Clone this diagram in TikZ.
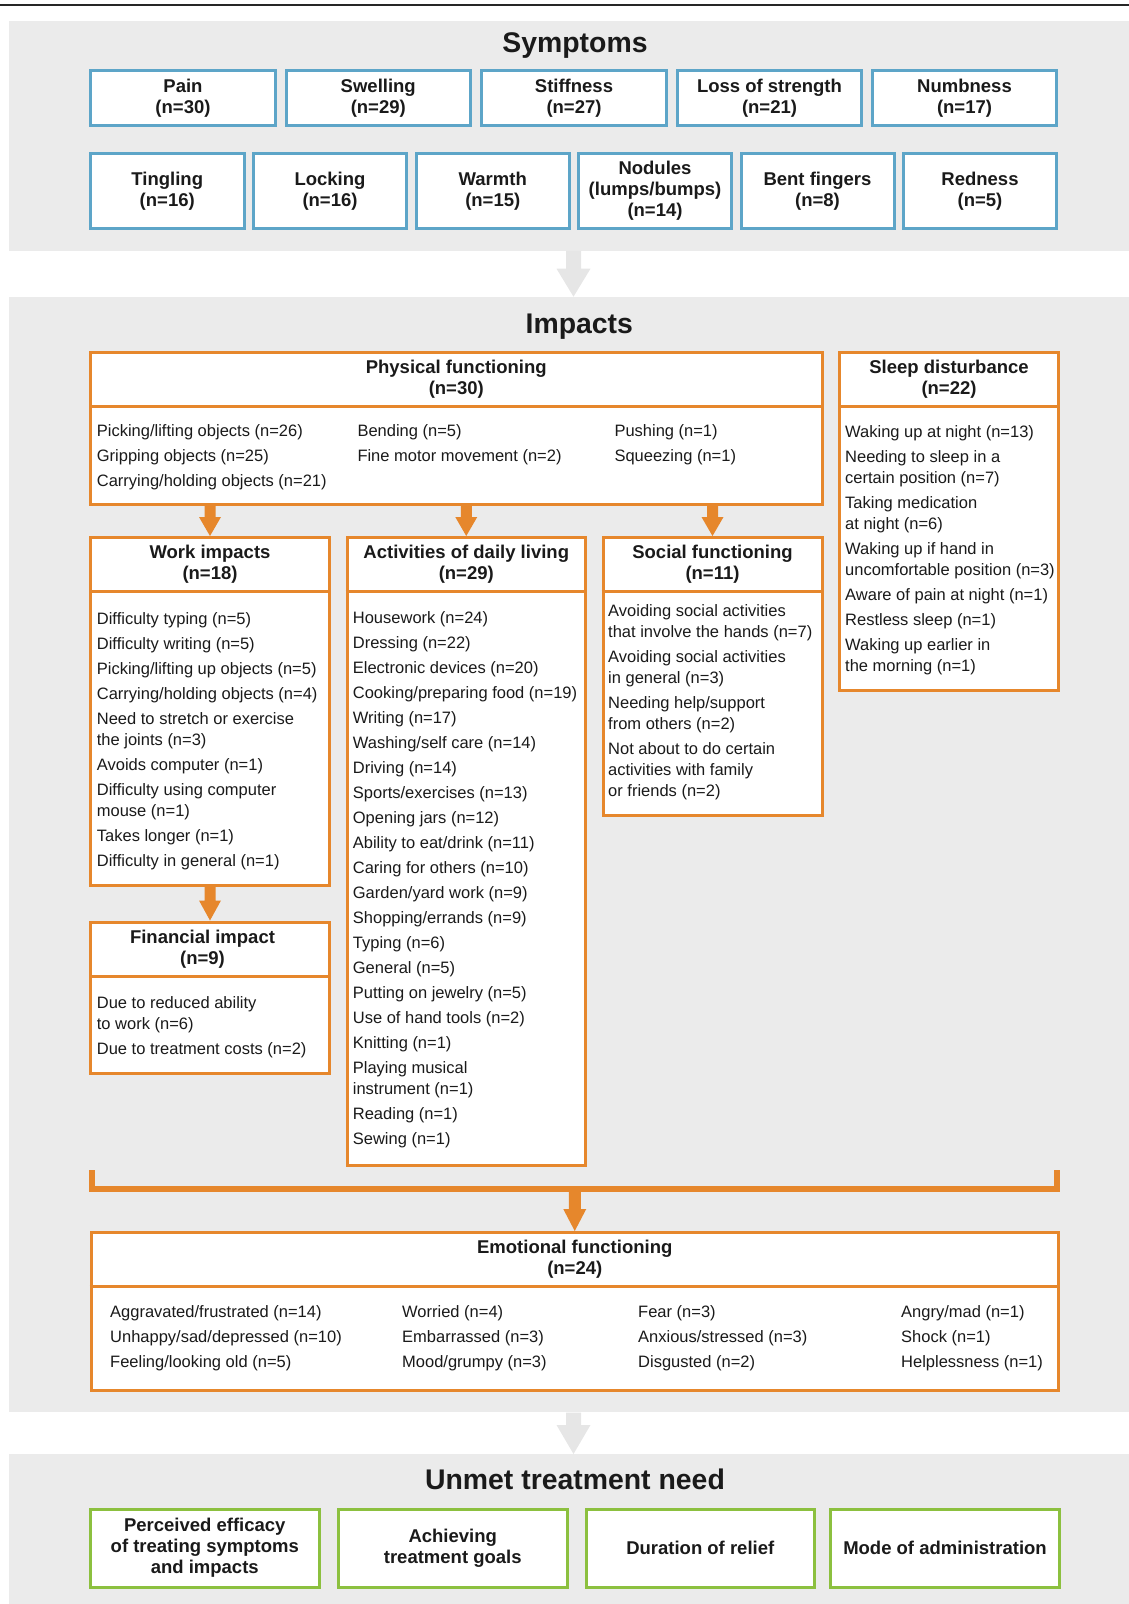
\documentclass[tikz,border=0pt]{standalone}
\usepackage{fontspec}
\setmainfont{Liberation Sans}
\usetikzlibrary{calc}
\definecolor{symblue}{HTML}{5DA5C8}
\definecolor{imporange}{HTML}{E6872C}
\definecolor{ungreen}{HTML}{8CC03F}
\definecolor{panelgray}{HTML}{EBEBEB}
\definecolor{arrowgray}{HTML}{E6E6E6}
\definecolor{txt}{HTML}{1A1A1A}
\newcommand\ttlfont{\fontsize{28.4}{34}\selectfont\bfseries}
\newcommand\hdrfont{\fontsize{18.5}{21}\selectfont\bfseries}
\newcommand\lstfont{\fontsize{16.5}{21}\selectfont}
% box from outer edges: style, name, L, T, R, B, text
\newcommand\mkbox[7]{\node[#1, minimum width={#5-#3-3}, minimum height={#6-#4-3}] (#2) at ({(#3+#5)/2},{(#4+#6)/2}) {#7};}
% vertical block arrow: from (y), to (x,y tip), shaft half, head half, head length, colour
\newcommand\blockarrow[6]{\fill[#6] let \p1=(#1), \p2=(#2) in (\x2-#3,\y1) -- (\x2+#3,\y1) -- (\x2+#3,\y2+#5) -- (\x2+#4,\y2+#5) -- (\x2,\y2) -- (\x2-#4,\y2+#5) -- (\x2-#3,\y2+#5) -- cycle;}
\begin{document}
\begin{tikzpicture}[x=1pt,y=-1pt,
  every node/.style={text=txt},
  sbox/.style={draw=symblue, line width=3pt, fill=white, inner sep=0pt, align=center, font=\hdrfont},
  obox/.style={draw=imporange, line width=3pt, fill=white, inner sep=0pt},
  gbox/.style={draw=ungreen, line width=3pt, fill=white, inner sep=0pt, align=center, font=\hdrfont},
  odiv/.style={draw=imporange, line width=3pt},
  hdr/.style={font=\hdrfont, align=center, inner sep=0pt},
  lst/.style={font=\lstfont, anchor=base west, inner sep=0pt},
  panel/.style={fill=panelgray, inner sep=0pt, anchor=north west},
  ttl/.style={font=\ttlfont, anchor=base, inner sep=0pt}]
\useasboundingbox (0,0) rectangle (1129,1604);
\draw[line width=1.3pt, color=black!85] (0,5) -- (1129,5);

% panels
\node[panel, minimum width=1120pt, minimum height=229.5pt] (sympanel) at (9,21) {};
\node[panel, minimum width=1120pt, minimum height=1115.5pt] (imppanel) at (9,296.7) {};
\node[panel, minimum width=1120pt, minimum height=150pt] (unmpanel) at (9,1454) {};

% gray arrows between panels
\coordinate (gxa) at (573.5,0);
\blockarrow{sympanel.south}{imppanel.north -| gxa}{7.5pt}{17pt}{28pt}{arrowgray}
\blockarrow{imppanel.south}{unmpanel.north -| gxa}{7.5pt}{17pt}{29pt}{arrowgray}

% titles
\node[ttl] (ttlsym) at (575,52) {Symptoms};
\node[ttl] (ttlimp) at (579.3,333.3) {Impacts};
\node[ttl] (ttlunm) at (575,1489) {Unmet treatment need};

% symptoms
\mkbox{sbox}{pain}{89}{69}{277}{127}{Pain\\(n=30)}
\mkbox{sbox}{swel}{284.5}{69}{472}{127}{Swelling\\(n=29)}
\mkbox{sbox}{stif}{480}{69}{668}{127}{Stiffness\\(n=27)}
\mkbox{sbox}{loss}{676}{69}{863}{127}{Loss of strength\\(n=21)}
\mkbox{sbox}{numb}{871}{69}{1058}{127}{Numbness\\(n=17)}
\mkbox{sbox}{ting}{89}{152}{245.5}{230}{Tingling\\(n=16)}
\mkbox{sbox}{lock}{252}{152}{408}{230}{Locking\\(n=16)}
\mkbox{sbox}{warm}{414.5}{152}{571}{230}{Warmth\\(n=15)}
\mkbox{sbox}{nodu}{577}{152}{733}{230}{Nodules\\(lumps/bumps)\\(n=14)}
\mkbox{sbox}{bent}{739.5}{152}{895.5}{230}{Bent fingers\\(n=8)}
\mkbox{sbox}{redn}{902}{152}{1058}{230}{Redness\\(n=5)}

% impact boxes
\mkbox{obox}{pf}{89}{350.5}{823.5}{506}{}
\mkbox{obox}{sleep}{838}{350.5}{1060}{692}{}
\mkbox{obox}{work}{89}{536}{331}{887}{}
\mkbox{obox}{adl}{345.5}{536}{587}{1167}{}
\mkbox{obox}{social}{601.5}{536}{823.5}{816.5}{}
\mkbox{obox}{fin}{89}{920.5}{331}{1074.5}{}
\mkbox{obox}{emo}{89.5}{1231}{1060}{1392}{}

\blockarrow{pf.south}{work.north}{5.5pt}{11pt}{19pt}{imporange}
\blockarrow{pf.south}{adl.north}{5.5pt}{11pt}{19pt}{imporange}
\blockarrow{pf.south}{social.north}{5.5pt}{11pt}{19pt}{imporange}
\blockarrow{work.south}{fin.north}{5.5pt}{11pt}{20pt}{imporange}

% dividers
\draw[odiv] ([yshift=-55.5pt]pf.north west) -- ([yshift=-55.5pt]pf.north east);
\draw[odiv] ([yshift=-55.5pt]sleep.north west) -- ([yshift=-55.5pt]sleep.north east);
\draw[odiv] ([yshift=-55pt]work.north west) -- ([yshift=-55pt]work.north east);
\draw[odiv] ([yshift=-55pt]adl.north west) -- ([yshift=-55pt]adl.north east);
\draw[odiv] ([yshift=-55pt]social.north west) -- ([yshift=-55pt]social.north east);
\draw[odiv] ([yshift=-55.5pt]fin.north west) -- ([yshift=-55.5pt]fin.north east);
\draw[odiv] ([yshift=-55.5pt]emo.north west) -- ([yshift=-55.5pt]emo.north east);

% headers
\node[hdr] (pfh) at (456.25,379) {Physical functioning\\(n=30)};
\node[hdr] (slh) at (949,379) {Sleep disturbance\\(n=22)};
\node[hdr] (wkh) at (210,564.25) {Work impacts\\(n=18)};
\node[hdr] (adh) at (466.25,564.25) {Activities of daily living\\(n=29)};
\node[hdr] (sch) at (712.5,564.25) {Social functioning\\(n=11)};
\node[hdr] (fnh) at (202.5,949) {Financial impact\\(n=9)};
\node[hdr] (emh) at (574.75,1259.5) {Emotional functioning\\(n=24)};

% lists
\node[lst] (pfl1) at (96.7,436.7) {\begin{tabular}[t]{@{}l@{}}Picking/lifting objects (n=26)\\[4pt]Gripping objects (n=25)\\[4pt]Carrying/holding objects (n=21)\end{tabular}};
\node[lst] (pfl2) at (357.3,436.7) {\begin{tabular}[t]{@{}l@{}}Bending (n=5)\\[4pt]Fine motor movement (n=2)\end{tabular}};
\node[lst] (pfl3) at (614.3,436.7) {\begin{tabular}[t]{@{}l@{}}Pushing (n=1)\\[4pt]Squeezing (n=1)\end{tabular}};

\node[lst] (sll) at (845,437.3) {\begin{tabular}[t]{@{}l@{}}Waking up at night (n=13)\\[4pt]Needing to sleep in a\\certain position (n=7)\\[4pt]Taking medication\\at night (n=6)\\[4pt]Waking up if hand in\\uncomfortable position (n=3)\\[4pt]Aware of pain at night (n=1)\\[4pt]Restless sleep (n=1)\\[4pt]Waking up earlier in\\the morning (n=1)\end{tabular}};

\node[lst] (wkl) at (96.7,624.5) {\begin{tabular}[t]{@{}l@{}}Difficulty typing (n=5)\\[4pt]Difficulty writing (n=5)\\[4pt]Picking/lifting up objects (n=5)\\[4pt]Carrying/holding objects (n=4)\\[4pt]Need to stretch or exercise\\the joints (n=3)\\[4pt]Avoids computer (n=1)\\[4pt]Difficulty using computer\\mouse (n=1)\\[4pt]Takes longer (n=1)\\[4pt]Difficulty in general (n=1)\end{tabular}};

\node[lst] (adll) at (352.7,623.5) {\begin{tabular}[t]{@{}l@{}}Housework (n=24)\\[4pt]Dressing (n=22)\\[4pt]Electronic devices (n=20)\\[4pt]Cooking/preparing food (n=19)\\[4pt]Writing (n=17)\\[4pt]Washing/self care (n=14)\\[4pt]Driving (n=14)\\[4pt]Sports/exercises (n=13)\\[4pt]Opening jars (n=12)\\[4pt]Ability to eat/drink (n=11)\\[4pt]Caring for others (n=10)\\[4pt]Garden/yard work (n=9)\\[4pt]Shopping/errands (n=9)\\[4pt]Typing (n=6)\\[4pt]General (n=5)\\[4pt]Putting on jewelry (n=5)\\[4pt]Use of hand tools (n=2)\\[4pt]Knitting (n=1)\\[4pt]Playing musical\\instrument (n=1)\\[4pt]Reading (n=1)\\[4pt]Sewing (n=1)\end{tabular}};

\node[lst] (scl) at (608,616.7) {\begin{tabular}[t]{@{}l@{}}Avoiding social activities\\that involve the hands (n=7)\\[4pt]Avoiding social activities\\in general (n=3)\\[4pt]Needing help/support\\from others (n=2)\\[4pt]Not about to do certain\\activities with family\\or friends (n=2)\end{tabular}};

\node[lst] (fnl) at (96.7,1008.3) {\begin{tabular}[t]{@{}l@{}}Due to reduced ability\\to work (n=6)\\[4pt]Due to treatment costs (n=2)\end{tabular}};

\node[lst] (eml1) at (110,1317.5) {\begin{tabular}[t]{@{}l@{}}Aggravated/frustrated (n=14)\\[4pt]Unhappy/sad/depressed (n=10)\\[4pt]Feeling/looking old (n=5)\end{tabular}};
\node[lst] (eml2) at (402,1317.5) {\begin{tabular}[t]{@{}l@{}}Worried (n=4)\\[4pt]Embarrassed (n=3)\\[4pt]Mood/grumpy (n=3)\end{tabular}};
\node[lst] (eml3) at (638,1317.5) {\begin{tabular}[t]{@{}l@{}}Fear (n=3)\\[4pt]Anxious/stressed (n=3)\\[4pt]Disgusted (n=2)\end{tabular}};
\node[lst] (eml4) at (901,1317.5) {\begin{tabular}[t]{@{}l@{}}Angry/mad (n=1)\\[4pt]Shock (n=1)\\[4pt]Helplessness (n=1)\end{tabular}};

% bracket and arrow to emotional functioning
\coordinate (brkL) at (91.6,1170);
\coordinate (brkR) at (1056.5,1170);
\coordinate (brkM) at (574.75,1189);
\draw[imporange, line width=6pt, line join=miter] (brkL) -- (brkL |- brkM) -- (brkR |- brkM) -- (brkR);
\blockarrow{brkM}{emo.north}{6pt}{11.5pt}{22pt}{imporange}

% unmet treatment need
\mkbox{gbox}{un1}{89}{1507.5}{320.5}{1588.5}{Perceived efficacy\\of treating symptoms\\and impacts}
\mkbox{gbox}{un2}{336.5}{1507.5}{569}{1588.5}{Achieving\\treatment goals}
\mkbox{gbox}{un3}{584.5}{1507.5}{816}{1588.5}{Duration of relief}
\mkbox{gbox}{un4}{829}{1507.5}{1061}{1588.5}{Mode of administration}
\end{tikzpicture}
\end{document}
